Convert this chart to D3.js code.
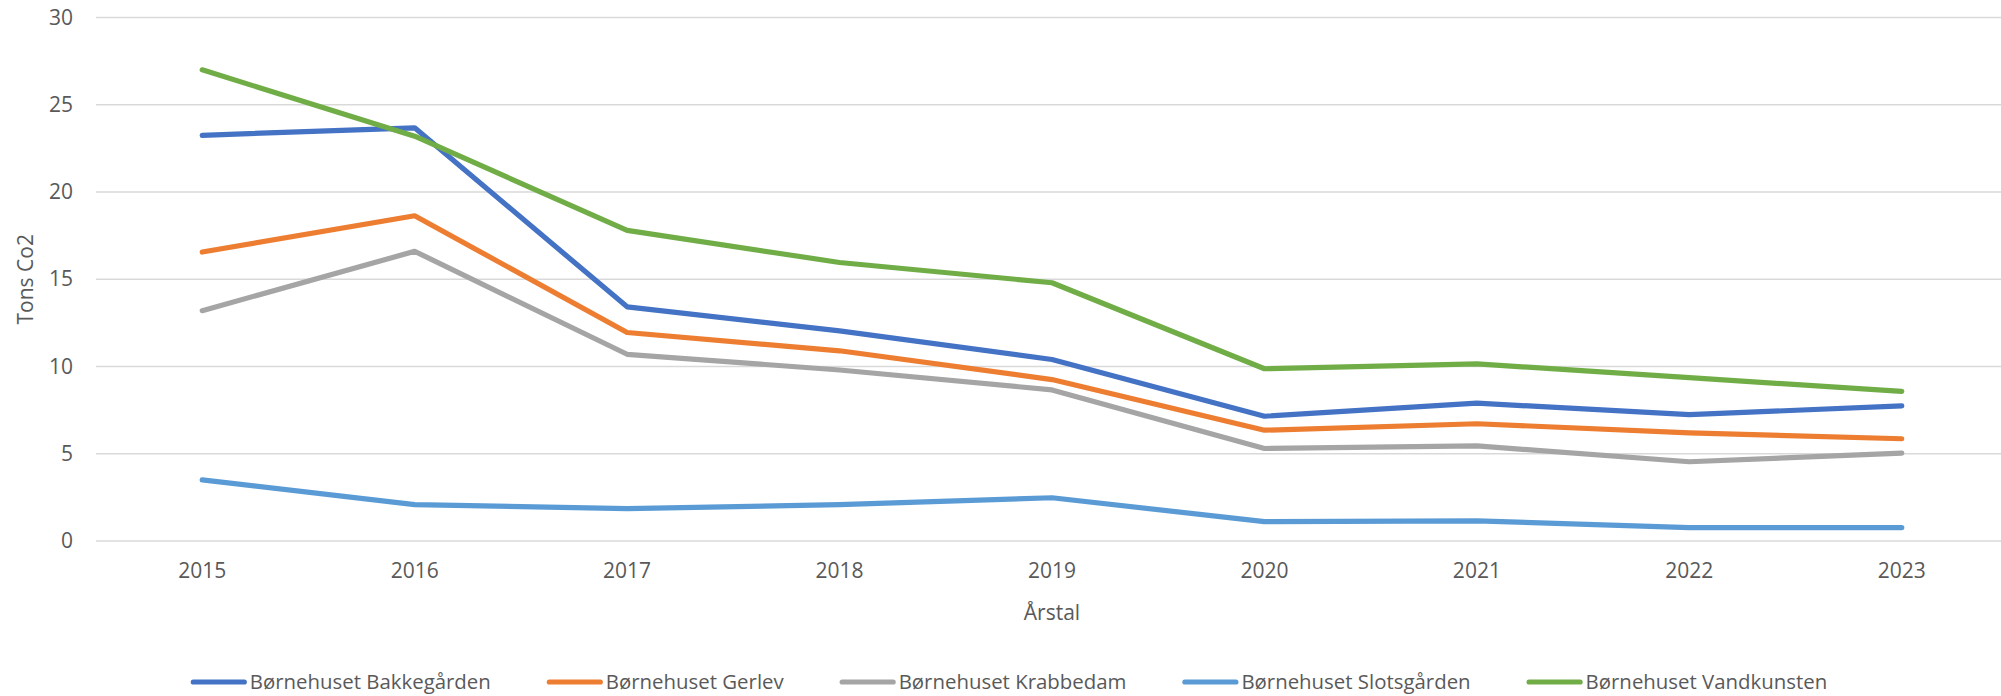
<!DOCTYPE html>
<html>
<head>
<meta charset="utf-8">
<script src="https://cdn.jsdelivr.net/npm/d3@7"></script>
<style>
  html, body { margin: 0; padding: 0; background: #fff; }
  svg { display: block; }
  text { font-family: "Open Sans", "Liberation Sans", sans-serif; fill: #595959; }
</style>
</head>
<body>
<svg id="chart" width="2001" height="696"></svg>
<script>
const years = ["2015","2016","2017","2018","2019","2020","2021","2022","2023"];
const seriesNames = ["Børnehuset Bakkegården","Børnehuset Gerlev","Børnehuset Krabbedam","Børnehuset Slotsgården","Børnehuset Vandkunsten"];
const bakkegarden = [23.25, 23.68, 13.42, 12.04, 10.40, 7.15, 7.90, 7.24, 7.74];
const gerlev      = [16.56, 18.64, 11.95, 10.90, 9.25, 6.35, 6.72, 6.20, 5.86];
const krabbedam   = [13.20, 16.60, 10.70, 9.80, 8.66, 5.30, 5.45, 4.54, 5.04];
const slotsgarden = [3.50, 2.08, 1.86, 2.08, 2.48, 1.11, 1.15, 0.77, 0.77];
const vandkunsten = [27.00, 23.20, 17.80, 15.96, 14.80, 9.87, 10.15, 9.36, 8.57];
const yTicks = [0, 5, 10, 15, 20, 25, 30];
const colors = ["#4472C4", "#ED7D31", "#A5A5A5", "#5B9BD5", "#70AD47"];
const yTitle = "Tons Co2";
const xTitle = "Årstal";

const allSeries = [bakkegarden, gerlev, krabbedam, slotsgarden, vandkunsten];

const svg = d3.select("#chart");
const plotLeft = 96, plotRight = 2008, plotTop = 17.5, plotBottom = 541;
const fs = "21px";
const legendFs = "20.4px";

const x = d3.scaleBand().domain(years).range([plotLeft, plotRight]);
const y = d3.scaleLinear().domain([0, 30]).range([plotBottom, plotTop]);

// gridlines
svg.append("g").selectAll("line").data(yTicks).join("line")
  .attr("x1", plotLeft).attr("x2", plotRight)
  .attr("y1", d => y(d)).attr("y2", d => y(d))
  .attr("stroke", "#D9D9D9").attr("stroke-width", 1.3);

// y axis labels
const yAxis = svg.append("g").attr("transform", `translate(${plotLeft - 23},0)`)
  .call(d3.axisLeft(y).tickValues(yTicks).tickSize(0).tickPadding(0));
yAxis.select(".domain").remove();
yAxis.selectAll("text").style("font-size", fs).attr("fill", "#595959")
  .style("font-family", '"Open Sans", sans-serif');

// x axis labels
const xAxis = svg.append("g").attr("transform", `translate(0,${plotBottom})`)
  .call(d3.axisBottom(x).tickSize(0).tickPadding(22));
xAxis.select(".domain").remove();
xAxis.selectAll("text").style("font-size", fs).attr("fill", "#595959")
  .style("font-family", '"Open Sans", sans-serif');

// titles
svg.append("text").attr("x", (plotLeft + plotRight) / 2).attr("y", 620)
  .attr("text-anchor", "middle").style("font-size", fs).text(xTitle);
svg.append("text")
  .attr("transform", `translate(33,${(plotTop + plotBottom) / 2}) rotate(-90)`)
  .attr("text-anchor", "middle").style("font-size", fs).text(yTitle);

// lines
const line = d3.line()
  .x((d, i) => x(years[i]) + x.bandwidth() / 2)
  .y(d => y(d));
svg.append("g").selectAll("path").data(allSeries).join("path")
  .attr("d", d => line(d))
  .attr("fill", "none")
  .attr("stroke", (d, i) => colors[i])
  .attr("stroke-width", 5.2)
  .attr("stroke-linejoin", "round")
  .attr("stroke-linecap", "round");

// legend
const legend = svg.append("g");
const legendY = 682;
const swatchW = 56, swatchGap = 3, itemGap = 56;
const items = seriesNames.map((name, i) => {
  const g = legend.append("g");
  g.append("line").attr("x1", 2.5).attr("x2", swatchW - 2.5)
    .attr("y1", legendY).attr("y2", legendY)
    .attr("stroke", colors[i]).attr("stroke-width", 5.2).attr("stroke-linecap", "round");
  const t = g.append("text").attr("x", swatchW + swatchGap).attr("y", legendY)
    .attr("dy", "0.35em").style("font-size", legendFs).text(name);
  return { g, w: swatchW + swatchGap + t.node().getComputedTextLength() };
});
const totalW = d3.sum(items, d => d.w) + itemGap * (items.length - 1);
let cx = 1009 - totalW / 2;
items.forEach(it => { it.g.attr("transform", `translate(${cx},0)`); cx += it.w + itemGap; });
</script>
</body>
</html>
